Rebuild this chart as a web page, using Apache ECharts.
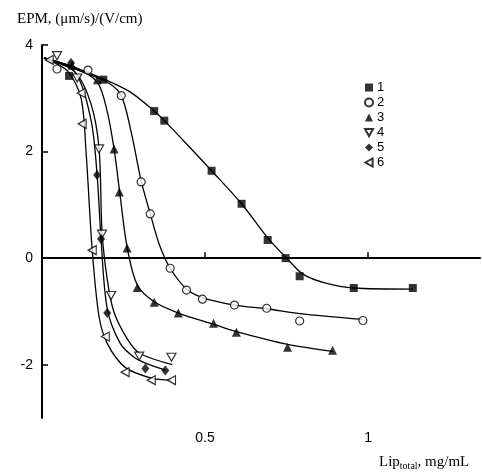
<!DOCTYPE html>
<html><head><meta charset="utf-8">
<script src="https://cdn.jsdelivr.net/npm/echarts@6/dist/echarts.min.js"></script>
<style>html,body{margin:0;padding:0;background:#fff}#c{width:482px;height:472px}</style>
</head><body><div id="c"></div>
<script>
// ---- data ----
const seriesNames = ['1', '2', '3', '4', '5', '6'];
const xTicks = [0.5, 1];
const yTicks = [-2, 0, 2, 4];

// measured points
const p1x = [0.083, 0.188, 0.344, 0.375, 0.520, 0.612, 0.692, 0.747, 0.790, 0.956, 1.137];
const p1y = [3.42, 3.35, 2.76, 2.58, 1.64, 1.02, 0.34, 0.0, -0.34, -0.56, -0.56];
const p2x = [0.046, 0.141, 0.243, 0.304, 0.332, 0.393, 0.443, 0.492, 0.590, 0.689, 0.790, 0.984];
const p2y = [3.55, 3.53, 3.05, 1.43, 0.83, -0.19, -0.60, -0.77, -0.88, -0.94, -1.18, -1.17];
const p3x = [0.092, 0.170, 0.221, 0.237, 0.261, 0.292, 0.344, 0.418, 0.526, 0.596, 0.753, 0.891];
const p3y = [3.62, 3.35, 2.05, 1.24, 0.19, -0.55, -0.83, -1.03, -1.22, -1.39, -1.67, -1.73];
const p4x = [0.046, 0.108, 0.175, 0.184, 0.212, 0.298, 0.397];
const p4y = [3.80, 3.38, 2.05, 0.45, -0.70, -1.84, -1.86];
const p5x = [0.089, 0.169, 0.181, 0.200, 0.317, 0.378];
const p5y = [3.66, 1.56, 0.36, -1.03, -2.07, -2.11];
const p6x = [0.022, 0.120, 0.123, 0.154, 0.194, 0.255, 0.335, 0.397];
const p6y = [3.72, 3.10, 2.52, 0.15, -1.47, -2.14, -2.29, -2.29];

// fitted curves
const c1x = [0.006, 0.1, 0.19, 0.27, 0.344, 0.375, 0.45, 0.52, 0.612, 0.692, 0.75, 0.8, 0.87, 0.956, 1.137];
const c1y = [3.76, 3.58, 3.36, 3.12, 2.76, 2.58, 2.1, 1.64, 1.02, 0.38, 0.0, -0.3, -0.47, -0.56, -0.58];
const c2x = [0.006, 0.1, 0.2, 0.243, 0.274, 0.304, 0.332, 0.36, 0.393, 0.443, 0.492, 0.59, 0.689, 0.79, 0.984];
const c2y = [3.76, 3.55, 3.3, 3.05, 2.35, 1.45, 0.83, 0.25, -0.19, -0.58, -0.74, -0.88, -0.95, -1.04, -1.15];
const c3x = [0.006, 0.1, 0.17, 0.2, 0.221, 0.237, 0.261, 0.292, 0.344, 0.418, 0.526, 0.596, 0.753, 0.891];
const c3y = [3.76, 3.58, 3.3, 2.75, 2.05, 1.3, 0.2, -0.5, -0.82, -1.03, -1.24, -1.38, -1.62, -1.75];
const c4x = [0.006, 0.1, 0.15, 0.175, 0.184, 0.2, 0.22, 0.26, 0.298, 0.40];
const c4y = [3.76, 3.5, 2.9, 2.05, 0.5, -0.4, -1.0, -1.5, -1.78, -2.0];
const c5x = [0.006, 0.1, 0.15, 0.169, 0.181, 0.2, 0.24, 0.28, 0.317, 0.378];
const c5y = [3.76, 3.5, 2.6, 1.56, 0.36, -0.95, -1.6, -1.85, -1.97, -2.1];
const c6x = [0.006, 0.022, 0.08, 0.12, 0.135, 0.154, 0.175, 0.2, 0.255, 0.335, 0.397];
const c6y = [3.76, 3.72, 3.5, 3.0, 2.0, 0.15, -1.1, -1.6, -2.05, -2.25, -2.29];

const pts = [[p1x,p1y],[p2x,p2y],[p3x,p3y],[p4x,p4y],[p5x,p5y],[p6x,p6y]];
const curves = [[c1x,c1y],[c2x,c2y],[c3x,c3y],[c4x,c4y],[c5x,c5y],[c6x,c6y]];
const zip = (xs, ys) => xs.map((x, i) => [x, ys[i]]);

const filled = {color:'#000', borderColor:'#000', borderWidth:0};
const open = {color:'#fff', borderColor:'#000', borderWidth:1.2};
const symbolDefs = [
  {symbol:'rect', size:8, style:filled},
  {symbol:'circle', size:8, style:open},
  {symbol:'triangle', size:9, style:filled},
  {symbol:'path://M0,0L10,0L5,9Z', size:[9,8], style:open},
  {symbol:'diamond', size:[8,10], style:filled},
  {symbol:'path://M0,5L9,0L9,10Z', size:[8,9], style:open}
];

const series = [];
curves.forEach((c, i) => {
  series.push({
    type:'line', data: zip(c[0], c[1]), smooth:0.3, showSymbol:false, symbol:'none',
    lineStyle:{color:'#000', width:1.3}, z:2, silent:true,
    markLine: i === 0 ? {
      symbol:'none', silent:true, label:{show:false},
      lineStyle:{color:'#000', width:1, type:[3,3]},
      data:[[{coord:[0,0]},{coord:[1.33,0]}]]
    } : undefined
  });
});
pts.forEach((p, i) => {
  const d = symbolDefs[i];
  series.push({
    type:'scatter', name: seriesNames[i], data: zip(p[0], p[1]),
    symbol: d.symbol, symbolSize: d.size, itemStyle: d.style, z:5
  });
});

const chart = echarts.init(document.getElementById('c'));
chart.setOption({
  backgroundColor:'#fff',
  animation:false,
  title:[
    {text:'EPM, (μm/s)/(V/cm)', left:12, top:7,
     textStyle:{fontFamily:'Liberation Serif', fontSize:15, fontWeight:'normal', color:'#000'}},
    {text:'Lip{s|total}, mg/mL', left:374, top:448,
     textStyle:{fontFamily:'Liberation Serif', fontSize:15, fontWeight:'normal', color:'#000',
       rich:{s:{fontFamily:'Liberation Serif', fontSize:10, verticalAlign:'bottom', padding:[8,0,0,0], color:'#000'}}}}
  ],
  legend:{
    orient:'vertical', left:359, top:76, itemWidth:8, itemHeight:8, itemGap:2,
    data: seriesNames,
    textStyle:{fontFamily:'Liberation Sans', fontSize:13, color:'#000', padding:[0,0,0,-1]}
  },
  grid:{left:42, right:2, top:45, bottom:54, containLabel:false},
  xAxis:{
    type:'value', min:0, max:1.343,
    axisLine:{lineStyle:{color:'#000', width:2}},
    axisTick:{inside:true, length:6, lineStyle:{color:'#000', width:1.5}, customValues:xTicks},
    axisLabel:{customValues:xTicks, color:'#000', fontFamily:'Liberation Sans', fontSize:14, margin:13},
    splitLine:{show:false}
  },
  yAxis:{
    type:'value', min:-3, max:4,
    axisLine:{show:true, lineStyle:{color:'#000', width:2}},
    axisTick:{show:true, inside:true, length:6, lineStyle:{color:'#000', width:1.5}, customValues:yTicks},
    axisLabel:{customValues:yTicks, color:'#000', fontFamily:'Liberation Sans', fontSize:14, margin:9},
    splitLine:{show:false}
  },
  series: series
});
</script>
</body></html>
